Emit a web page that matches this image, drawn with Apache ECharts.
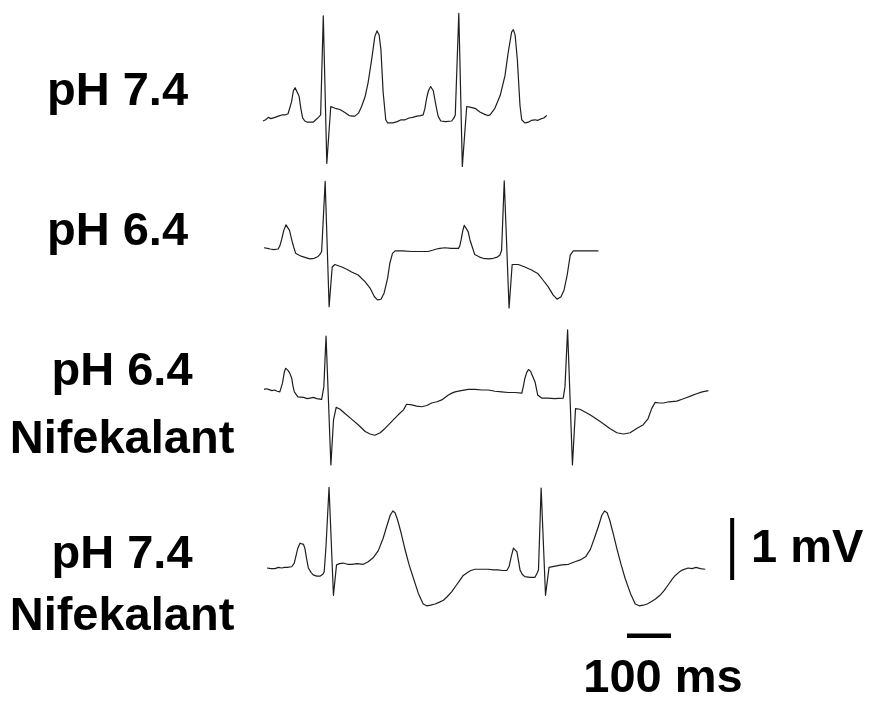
<!DOCTYPE html>
<html>
<head>
<meta charset="utf-8">
<script src="https://cdn.jsdelivr.net/npm/echarts@6/dist/echarts.min.js"></script>
<style>html,body{margin:0;padding:0;background:#fff}#c{width:871px;height:706px}</style>
</head>
<body>
<div id="c"></div>
<script>
// Trace labels
const labels = [["pH 7.4"], ["pH 6.4"], ["pH 6.4", "Nifekalant"], ["pH 7.4", "Nifekalant"]];

// Trace 1: pH 7.4  (time ms, voltage mV)
const ph74_t = [0,6,12,18,27,35,43,50,57,61,65,69,73,77,82,86,90,95,101,107,114,120,126,131,137,145,154,158,164,175,186,196,204,209,217,224,232,239,247,254,259,264,268,273,279,283,295,305,314,323,332,340,350,358,364,368,372,376,381,387,393,398,404,415,429,434,437,445,453,463,470,482,493,504,511,516,527,539,550,557,565,569,573,578,584,588,595,603,610,618,624,630,638,645];
const ph74_v = [0,0.02,0.06,0.04,0.06,0.08,0.1,0.1,0.12,0.15,0.32,0.5,0.55,0.52,0.41,0.21,0.05,0,-0.02,-0.02,-0.02,0.02,0.06,0.1,1.74,-0.7,0.24,0.23,0.21,0.19,0.14,0.09,0.08,0.08,0.13,0.24,0.4,0.64,1.02,1.39,1.49,1.42,1.18,0.48,0.02,-0.03,-0.03,-0.01,0.02,0.02,0.05,0.06,0.08,0.09,0.1,0.21,0.38,0.5,0.57,0.5,0.26,0.08,0,-0.01,0,0.05,0.1,1.78,-0.75,0.24,0.23,0.21,0.15,0.11,0.09,0.1,0.21,0.42,0.75,1.12,1.47,1.51,1.42,1.02,0.26,0.02,-0.03,-0.02,0.01,0.02,0.01,0.03,0.05,0.09];

// Trace 2: pH 6.4
const ph64_t = [0,8,14,22,32,36,40,45,50,54,58,64,68,72,80,86,95,104,114,123,128,131,139,148,155,161,177,189,199,214,230,241,251,258,266,273,281,286,292,298,315,336,355,373,383,392,400,411,425,442,445,448,452,455,459,464,468,472,479,490,498,510,521,530,536,540,546,557,564,578,593,608,623,634,646,657,666,675,682,689,696,703,730,760];
const ph64_v = [0.02,0.01,0,-0.01,0,0.05,0.15,0.3,0.39,0.36,0.3,0.12,0.02,-0.07,-0.1,-0.12,-0.14,-0.16,-0.15,-0.12,-0.08,-0.04,1.09,-0.93,-0.29,-0.25,-0.29,-0.33,-0.37,-0.42,-0.53,-0.63,-0.77,-0.82,-0.81,-0.71,-0.47,-0.23,-0.07,-0.03,-0.03,-0.04,-0.04,-0.04,-0.02,0,0.01,0.02,0.01,0.01,0.05,0.15,0.3,0.38,0.35,0.28,0.15,0.06,-0.09,-0.13,-0.15,-0.16,-0.15,-0.13,-0.1,-0.02,1.1,-0.95,-0.25,-0.25,-0.29,-0.34,-0.4,-0.5,-0.61,-0.74,-0.81,-0.77,-0.66,-0.42,-0.1,-0.03,-0.03,-0.03];

// Trace 3: pH 6.4 + Nifekalant
const ph64n_t = [0,5,10,18,24,30,36,42,46,49,54,58,63,66,69,77,90,98,105,112,120,131,136,141,152,158,164,173,184,199,214,230,241,252,264,275,290,305,317,324,336,347,358,370,381,393,404,419,427,434,448,464,480,495,510,525,540,555,570,586,590,593,597,601,606,610,616,622,631,645,660,680,684,690,701,708,718,741,764,786,802,817,832,847,862,873,881,889,898,908,920,938,950,961,972,983,996,1010];
const ph64n_v = [0.01,0.02,0.01,-0.01,0,-0.02,-0.03,0.11,0.28,0.35,0.32,0.28,0.19,0.06,-0.03,-0.11,-0.12,-0.14,-0.13,-0.12,-0.14,-0.15,0.05,0.87,-1.21,-0.48,-0.28,-0.31,-0.38,-0.47,-0.56,-0.67,-0.71,-0.73,-0.69,-0.62,-0.51,-0.4,-0.32,-0.23,-0.24,-0.26,-0.27,-0.25,-0.21,-0.19,-0.16,-0.08,-0.05,-0.03,-0.01,0.01,0.01,0,0,-0.02,-0.03,-0.04,-0.04,-0.05,0.08,0.19,0.28,0.33,0.3,0.27,0.13,-0.08,-0.13,-0.13,-0.14,-0.13,0.05,0.97,-1.21,-0.3,-0.31,-0.4,-0.51,-0.62,-0.69,-0.71,-0.69,-0.62,-0.56,-0.46,-0.3,-0.2,-0.21,-0.21,-0.19,-0.18,-0.15,-0.12,-0.09,-0.06,-0.03,-0.01];

// Trace 4: pH 7.4 + Nifekalant
const ph74n_t = [0,9,18,26,33,40,46,56,62,66,70,75,79,83,86,90,94,100,105,113,121,127,130,134,141,151,158,165,173,183,193,205,219,230,242,253,264,272,280,286,291,297,305,314,323,333,344,355,363,372,382,392,401,410,420,429,439,446,454,463,473,488,503,515,525,535,545,550,555,560,564,568,572,575,580,586,598,609,614,617,623,633,641,655,670,685,700,712,724,735,746,754,761,767,773,779,787,796,805,814,826,837,846,855,864,874,883,893,902,912,921,928,936,945,957,966,975,985,996];
const ph74n_v = [0,-0.01,-0.01,0.01,0,0.01,0.01,0.02,0.08,0.2,0.32,0.4,0.42,0.38,0.32,0.15,0,-0.07,-0.11,-0.13,-0.13,-0.1,-0.06,0.34,1.3,-0.44,0.05,0.07,0.08,0.06,0.06,0.07,0.06,0.1,0.17,0.28,0.48,0.67,0.85,0.92,0.89,0.77,0.56,0.29,0.05,-0.17,-0.41,-0.58,-0.61,-0.6,-0.58,-0.55,-0.52,-0.46,-0.38,-0.29,-0.19,-0.12,-0.08,-0.04,-0.02,-0.02,-0.02,-0.03,-0.03,-0.04,-0.04,0.02,0.18,0.32,0.3,0.26,0.1,-0.03,-0.1,-0.14,-0.15,-0.15,-0.08,-0.03,1.29,-0.44,0.01,0.03,0.05,0.06,0.1,0.13,0.18,0.3,0.52,0.69,0.85,0.92,0.89,0.77,0.55,0.29,0.05,-0.17,-0.41,-0.58,-0.61,-0.6,-0.58,-0.54,-0.5,-0.44,-0.37,-0.27,-0.18,-0.12,-0.07,-0.03,0,-0.01,0.01,-0.01,-0.02];

// Scale bars
const scaleBarMs = 100;
const scaleBarMv = 1;
const scaleBarLabels = ["100 ms", "1 mV"];

const PX_PER_MS = 0.44;
const PX_PER_MV = 62;

const traces = [
  {t: ph74_t, v: ph74_v, x0: 263, y0: 118},
  {t: ph64_t, v: ph64_v, x0: 264, y0: 249},
  {t: ph64n_t, v: ph64n_v, x0: 264, y0: 390},
  {t: ph74n_t, v: ph74n_v, x0: 267, y0: 568}
];

const T_MAX = 1100, V_MIN = -2, V_MAX = 2;
const grid = [], xAxis = [], yAxis = [], series = [];
traces.forEach((tr, i) => {
  grid.push({left: tr.x0, top: tr.y0 - V_MAX * PX_PER_MV, width: T_MAX * PX_PER_MS, height: (V_MAX - V_MIN) * PX_PER_MV});
  xAxis.push({gridIndex: i, type: 'value', min: 0, max: T_MAX, show: false});
  yAxis.push({gridIndex: i, type: 'value', min: V_MIN, max: V_MAX, show: false});
  series.push({
    type: 'line', xAxisIndex: i, yAxisIndex: i,
    data: tr.t.map((t, k) => [t, tr.v[k]]),
    showSymbol: false, symbol: 'none', clip: false,
    lineStyle: {color: '#1e1e1e', width: 1.2, join: 'round'}
  });
});

// Scale-bar grid: x origin at time bar start, y=0 at bottom of mV bar
const SB_T_MAX = 300, SB_V_MIN = -1, SB_V_MAX = 1;
const sbX0 = 627, sbY0 = 580;
grid.push({left: sbX0, top: sbY0 - SB_V_MAX * PX_PER_MV, width: SB_T_MAX * PX_PER_MS, height: (SB_V_MAX - SB_V_MIN) * PX_PER_MV});
xAxis.push({gridIndex: 4, type: 'value', min: 0, max: SB_T_MAX, show: false});
yAxis.push({gridIndex: 4, type: 'value', min: SB_V_MIN, max: SB_V_MAX, show: false});
const msBarY = -0.9;   // mV level of the time bar
const mvBarT = 239;    // ms position of the voltage bar
series.push({type: 'line', xAxisIndex: 4, yAxisIndex: 4, data: [[0, msBarY], [scaleBarMs, msBarY]],
  showSymbol: false, symbol: 'none', clip: false, lineStyle: {color: '#000', width: 4.5, cap: 'butt'}});
series.push({type: 'line', xAxisIndex: 4, yAxisIndex: 4, data: [[mvBarT, 0], [mvBarT, scaleBarMv]],
  showSymbol: false, symbol: 'none', clip: false, lineStyle: {color: '#000', width: 4, cap: 'butt'}});

const FONT = 'bold 47px "Liberation Sans", Arial, sans-serif';
const textEl = (txt, x, y, align) => ({type: 'text', x: x, y: y, style: {text: txt, font: FONT, fill: '#000', align: align || 'left', verticalAlign: 'middle'}});

const graphic = [
  textEl(labels[0][0], 47, 92),
  textEl(labels[1][0], 47, 232),
  textEl(labels[2][0], 122, 372, 'center'),
  textEl(labels[2][1], 122, 440, 'center'),
  textEl(labels[3][0], 122, 555, 'center'),
  textEl(labels[3][1], 122, 617, 'center'),
  textEl(scaleBarLabels[1], 751, 549),
  textEl(scaleBarLabels[0], 663, 679, 'center')
];

const chart = echarts.init(document.getElementById('c'), null, {renderer: 'canvas'});
chart.setOption({animation: false, backgroundColor: '#fff', grid, xAxis, yAxis, series, graphic});
</script>
</body>
</html>
